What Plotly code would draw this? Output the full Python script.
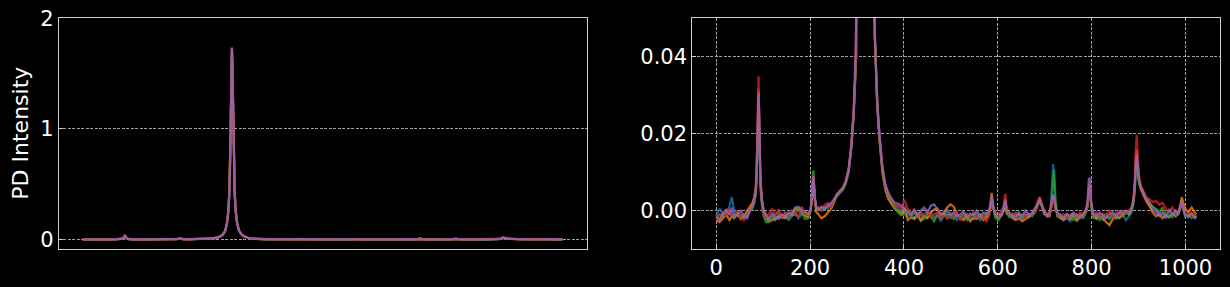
import plotly.graph_objects as go

# channel positions (shared by all spectra)
x_pos = [
    0, 7, 14, 21, 28, 33, 38, 45, 52, 59, 66, 72,
    77, 81, 84, 86, 88, 89, 90, 91, 92, 94, 97, 101, 106,
    112, 119, 126, 133, 140, 147, 154, 161, 168, 175, 182, 189, 196,
    201, 204, 206, 207, 208, 210, 213,
    218, 224, 231, 238, 245, 251,
    256, 263, 270, 276, 282, 288, 293, 298, 303, 307, 310, 312, 314, 315, 316, 317, 318,
    319, 320, 321, 322, 324, 326, 329, 333, 338, 343, 348, 354, 360, 366, 373, 380,
    387, 394, 401, 408, 415, 422, 429, 436, 443, 450, 457, 464, 471, 478, 485, 492, 499,
    506, 513, 520, 527, 534, 541, 548, 555, 562, 569, 576, 581,
    584, 587, 590,
    595, 602, 608,
    612, 616, 619,
    624, 631, 638, 645, 652, 659, 666, 673, 680,
    685, 689, 693,
    699, 705, 710,
    713, 716, 718, 720, 723,
    727, 733, 740, 747, 754, 761, 768, 775, 782, 788,
    791, 794, 796, 799,
    803, 810, 817, 824, 831, 838, 845, 852, 859, 866, 873, 880, 885,
    889, 892, 894, 896, 898, 901, 905, 910, 916, 923, 930,
    937, 944, 951, 958, 965, 972, 979, 985,
    989, 992, 995,
    999, 1006, 1013, 1020, 1023,
]

pd_blue = [
    -0.0015, 0.0005, -0.001, -0.0005, 0.001, 0.0035, 0.0, -0.0015, -0.001, -0.002, -0.0008, 0.0,
    0.0008, 0.002, 0.0045, 0.009, 0.019, 0.026, 0.029, 0.025, 0.016, 0.007, 0.002, -0.001, -0.0025,
    -0.002, -0.0015, -0.0025, -0.001, -0.002, -0.0012, -0.0025, -0.0015, -0.0005, -0.002, -0.001, -0.0005, -0.0015,
    0.0, 0.003, 0.007, 0.008, 0.0065, 0.0028, 0.0005,
    0.0005, 0.0, 0.001, 0.0005, 0.0015, 0.0025,
    0.0035, 0.0045, 0.0055, 0.0072, 0.0102, 0.0168, 0.0258, 0.0398, 0.0695, 0.129,
    0.238, 0.378, 0.648, 0.898, 1.198, 1.518, 1.728, 1.578, 1.248, 0.948,
    0.718, 0.418, 0.258, 0.149, 0.0795, 0.0445, 0.0275, 0.0185, 0.0105, 0.006, 0.0038, 0.0022, 0.0012,
    0.0008, -0.0005, 0.0012, -0.0015, -0.001, -0.002, -0.0008, -0.0025, -0.0012, -0.0018,
    -0.0005, -0.002, -0.001, -0.0028, -0.0015, -0.0008, -0.002, -0.0012, -0.0025, -0.0015,
    -0.002, -0.001, -0.0022, -0.0018, -0.0008, -0.0025, -0.0012, -0.0015, -0.0005,
    0.0005, 0.003, 0.001,
    -0.0015, -0.002, -0.0008,
    0.0, 0.0018, -0.0005,
    -0.0012, -0.002, -0.0008, -0.0015, -0.0022, -0.001, -0.0018, -0.0005, 0.0,
    0.0015, 0.0028, 0.0015,
    -0.0005, -0.0015, -0.001,
    0.002, 0.0105, 0.0121, 0.007, 0.001,
    -0.001, -0.0018, -0.0025, -0.002, -0.0028, -0.0015, -0.002, -0.001, -0.0018, -0.0005,
    0.001, 0.005, 0.0058, 0.0015,
    -0.0015, -0.002, -0.0012, -0.0025, -0.0015, -0.002, -0.0008, -0.0022, -0.0015, -0.001, -0.0025, -0.0012, -0.0005,
    0.002, 0.006, 0.011, 0.013, 0.0105, 0.007, 0.0055, 0.0042, 0.003, 0.0015, 0.0,
    -0.0005, -0.0015, -0.001, -0.002, -0.0012, -0.0018, -0.0005, -0.001,
    0.0008, 0.002, 0.0005,
    -0.0012, -0.0018, -0.001, -0.0015, -0.002,
]

pd_orange = [
    -0.0025, -0.003, -0.002, -0.001, -0.0025, -0.0015, -0.002, -0.0008, -0.0022, -0.0015, 0.0, 0.001,
    0.002, 0.0035, 0.006, 0.011, 0.022, 0.029, 0.0314, 0.026, 0.017, 0.008, 0.003, 0.0, -0.0015,
    -0.0028, -0.0025, -0.0022, -0.0015, -0.0018, -0.002, -0.001, -0.0012, 0.0005, 0.0002, -0.0008, -0.0012, -0.0018,
    0.0, 0.003, 0.0075, 0.0085, 0.0068, 0.0025, -0.0005,
    -0.001, -0.002, -0.0015, -0.0005, 0.0005, 0.002,
    0.0042, 0.005, 0.006, 0.0078, 0.0108, 0.0172, 0.0262, 0.0402, 0.0705, 0.131,
    0.242, 0.382, 0.652, 0.902, 1.202, 1.522, 1.735, 1.585, 1.252, 0.952,
    0.722, 0.422, 0.261, 0.150, 0.0798, 0.0448, 0.0272, 0.018, 0.0098, 0.0055, 0.0032, 0.0018, 0.0005,
    0.0, -0.001, 0.0005, -0.0025, -0.0018, -0.0022, -0.001, -0.0028, -0.0015, -0.002,
    -0.0005, 0.0003, 0.0005, -0.0012, -0.0005, 0.0008, 0.0016, 0.001, -0.0008, -0.002,
    -0.0025, -0.0015, -0.0028, -0.002, -0.0022, -0.0012, -0.0025, -0.0018, -0.001,
    0.0015, 0.0046, 0.0012,
    -0.001, -0.0018, -0.0012,
    0.0, 0.0022, -0.0008,
    -0.001, -0.0018, -0.0025, -0.002, -0.0028, -0.0022, -0.0015, -0.001, 0.0005,
    0.002, 0.0035, 0.002,
    0.0, -0.0012, -0.0015,
    0.0005, 0.0025, 0.0038, 0.003, 0.0005,
    -0.0012, -0.002, -0.0025, -0.0015, -0.0022, -0.001, -0.0028, -0.0015, -0.0008, 0.0,
    0.0012, 0.0055, 0.006, 0.0018,
    -0.0012, -0.0022, -0.0015, -0.002, -0.003, -0.0038, -0.0022, -0.0015, -0.002, -0.0012, -0.0005, -0.001, 0.0005,
    0.0025, 0.007, 0.013, 0.0157, 0.012, 0.0075, 0.0055, 0.004, 0.0025, 0.0012, -0.0005,
    -0.0015, -0.001, -0.002, -0.0012, -0.0018, -0.0008, -0.0015, -0.0005,
    0.0015, 0.0035, 0.0022,
    0.0005, -0.0005, 0.0008, -0.0005, -0.001,
]

pd_green = [
    -0.002, -0.001, -0.0015, 0.0, -0.0008, -0.0012, -0.002, -0.0005, -0.0018, -0.001, -0.0015, 0.0,
    0.0005, 0.002, 0.004, 0.008, 0.018, 0.025, 0.028, 0.024, 0.015, 0.006, 0.0015, -0.0015, -0.003,
    -0.003, -0.002, -0.001, -0.0005, -0.0015, -0.0005, -0.002, -0.0008, -0.0012, 0.0008, -0.0005, -0.0022, -0.002,
    0.0, 0.004, 0.0095, 0.0105, 0.008, 0.003, 0.0005,
    0.0, 0.0008, 0.0002, 0.0015, 0.001, 0.0022,
    0.0036, 0.0046, 0.0054, 0.007, 0.0098, 0.0162, 0.0252, 0.0392, 0.069, 0.128,
    0.237, 0.377, 0.646, 0.896, 1.196, 1.516, 1.726, 1.576, 1.246, 0.946,
    0.716, 0.416, 0.257, 0.149, 0.0792, 0.0445, 0.0278, 0.0188, 0.0108, 0.0062, 0.004, 0.0025, 0.0008,
    -0.0005, -0.0012, -0.001, 0.0002, -0.0015, -0.0005, -0.0018, -0.001, -0.0022, -0.0008,
    -0.0015, -0.0028, -0.0012, -0.002, -0.0005, -0.0015, -0.0008, -0.0022, -0.0012, -0.0018,
    -0.0008, -0.0025, -0.0015, -0.001, -0.002, -0.0012, -0.0018, -0.0008, -0.0012,
    0.0, 0.0025, 0.0005,
    -0.002, -0.0025, -0.001,
    0.0005, 0.0025, 0.0,
    -0.0018, -0.0008, -0.0015, -0.0005, -0.002, -0.0012, -0.001, -0.0015, -0.0005,
    0.0012, 0.0025, 0.0012,
    -0.001, -0.0008, -0.0012,
    0.0, 0.004, 0.008, 0.0106, 0.003,
    -0.0015, -0.001, -0.0022, -0.0012, -0.0018, -0.0025, -0.001, -0.0015, -0.002, -0.0005,
    0.0008, 0.0048, 0.0055, 0.001,
    -0.002, -0.0012, -0.0025, -0.0015, -0.001, -0.0022, -0.0012, -0.0018, -0.0008, -0.0015, -0.0005, -0.001, 0.0,
    0.0015, 0.005, 0.010, 0.0124, 0.011, 0.0075, 0.006, 0.0048, 0.0035, 0.0022, 0.001,
    0.0005, -0.0005, 0.0008, -0.001, -0.0015, -0.0008, -0.0012, 0.0,
    0.0005, 0.0018, 0.0002,
    -0.0015, -0.001, -0.002, -0.0012, -0.0018,
]

pd_red = [
    -0.001, -0.002, -0.0005, -0.0015, 0.0005, -0.001, -0.0015, 0.0, -0.002, -0.0025, -0.0012, 0.0005,
    0.001, 0.0025, 0.005, 0.010, 0.024, 0.032, 0.0349, 0.028, 0.018, 0.008, 0.0025, -0.0005, -0.002,
    -0.001, 0.0005, -0.0012, 0.0003, -0.0018, -0.0008, -0.0015, 0.0, -0.0008, -0.0015, 0.001, -0.0005, -0.0012,
    0.0005, 0.0035, 0.008, 0.009, 0.007, 0.003, 0.001,
    0.0008, 0.0, 0.0015, 0.002, 0.001, 0.0028,
    0.004, 0.0048, 0.0058, 0.0075, 0.0105, 0.017, 0.026, 0.040, 0.070, 0.130,
    0.240, 0.380, 0.650, 0.900, 1.200, 1.520, 1.730, 1.580, 1.250, 0.950,
    0.720, 0.420, 0.260, 0.150, 0.0802, 0.0452, 0.0282, 0.0192, 0.0112, 0.0068, 0.0045, 0.003, 0.0015,
    0.0012, 0.0005, 0.0028, 0.0005, -0.0008, 0.0002, -0.0015, -0.0005, -0.0012, 0.0,
    -0.0018, -0.001, -0.0005, -0.002, -0.0012, -0.0022, -0.001, -0.0015, -0.0005, -0.0025,
    -0.0012, -0.0008, -0.0018, -0.0005, -0.0015, -0.001, -0.002, -0.0028, -0.0015,
    0.001, 0.0035, 0.0008,
    -0.0005, -0.0015, -0.0003,
    0.0012, 0.0044, 0.0008,
    -0.0008, -0.0015, -0.0005, -0.0012, -0.001, -0.0018, -0.0008, -0.0012, 0.0,
    0.0018, 0.0033, 0.0018,
    -0.0005, -0.001, -0.0008,
    0.0005, 0.002, 0.003, 0.0025, 0.0,
    -0.0008, -0.0015, -0.001, -0.002, -0.0012, -0.0008, -0.0015, -0.0005, -0.0012, 0.0,
    0.0015, 0.0065, 0.007, 0.002,
    -0.001, -0.0005, -0.0015, -0.0008, -0.0012, 0.0, -0.0018, -0.0005, -0.001, 0.0, -0.0008, 0.0002, 0.0008,
    0.003, 0.008, 0.016, 0.0197, 0.015, 0.009, 0.0065, 0.005, 0.0035, 0.003, 0.0022,
    0.0025, 0.0015, 0.002, 0.0005, -0.0005, 0.0008, -0.0008, -0.0002,
    0.0008, 0.002, 0.0005,
    -0.0008, -0.0012, -0.0005, -0.0018, -0.0012,
]

pd_purple = [
    -0.0018, -0.0025, -0.0008, 0.0002, -0.0012, 0.0008, -0.0015, -0.001, 0.0, -0.0015, -0.002, 0.0003,
    0.0012, 0.003, 0.005, 0.009, 0.019, 0.027, 0.0306, 0.027, 0.019, 0.009, 0.003, 0.0, -0.001,
    -0.0022, -0.0008, -0.0018, -0.0022, -0.001, -0.0015, -0.0005, -0.001, 0.0008, 0.001, 0.0, -0.0003, -0.0008,
    0.0005, 0.0035, 0.0082, 0.0089, 0.0072, 0.0035, 0.001,
    0.0003, 0.001, 0.0005, 0.0012, 0.002, 0.003,
    0.0039, 0.005, 0.0059, 0.0076, 0.0106, 0.0171, 0.0261, 0.0401, 0.0702, 0.1305,
    0.2405, 0.3805, 0.6505, 0.9005, 1.2005, 1.5205, 1.7305, 1.5805, 1.2505, 0.9505,
    0.7205, 0.4205, 0.2605, 0.1505, 0.0805, 0.0455, 0.0285, 0.0195, 0.0115, 0.007, 0.0048, 0.0032, 0.002,
    0.0018, 0.0012, 0.0002, -0.0005, -0.001, 0.0002, -0.0012, 0.0, 0.0008, -0.0005,
    0.0012, 0.0016, 0.0005, -0.0008, -0.001, 0.0002, -0.0012, -0.0005, -0.0015, -0.001,
    -0.0002, -0.0018, -0.0008, -0.0012, 0.0, -0.0015, -0.0005, -0.0008, 0.0,
    0.0012, 0.0038, 0.001,
    -0.0012, -0.0008, -0.0015,
    0.0005, 0.0028, 0.0,
    -0.0005, -0.0012, -0.002, -0.0008, -0.0015, 0.0, -0.0012, -0.0008, 0.0008,
    0.0015, 0.003, 0.0015,
    -0.0008, -0.0015, -0.0005,
    0.001, 0.003, 0.0042, 0.0035, 0.001,
    -0.0005, -0.0012, -0.002, -0.0008, -0.0015, -0.0005, -0.0012, -0.002, -0.001, 0.0005,
    0.002, 0.0082, 0.0085, 0.0025,
    -0.0008, -0.0015, -0.0005, -0.0012, -0.002, -0.001, -0.0005, -0.0015, -0.0002, -0.0008, 0.0, -0.0005, 0.0005,
    0.003, 0.0065, 0.012, 0.0145, 0.012, 0.008, 0.006, 0.0045, 0.003, 0.002, 0.0008,
    0.0, -0.001, -0.0005, -0.0015, 0.0002, -0.001, 0.0, -0.0008,
    0.001, 0.0025, 0.0008,
    -0.001, -0.0015, -0.0008, -0.002, -0.0015,
]

left_yticks = [0, 1, 2]
right_yticks = [0.0, 0.02, 0.04]
right_xticks = [0, 200, 400, 600, 800, 1000]

series = [
    (pd_blue, "#1f77b4"),
    (pd_orange, "#ff7f0e"),
    (pd_green, "#2ca02c"),
    (pd_red, "#d62728"),
    (pd_purple, "#9467bd"),
]

fig = go.Figure()
for xa, ya in (("x", "y"), ("x2", "y2")):
    for ys, col in series:
        fig.add_trace(go.Scatter(
            x=x_pos, y=ys, mode="lines", xaxis=xa, yaxis=ya,
            line=dict(color=col, width=2.2), opacity=0.8,
            showlegend=False, hoverinfo="skip",
        ))

FONT = "DejaVu Sans"
tickfont = dict(family=FONT, size=21, color="white")
grid = dict(gridcolor="rgba(190,190,190,0.85)", gridwidth=0.8, griddash="3px,1.5px")
frame = dict(showline=True, linecolor="#cfcfcf", linewidth=1, mirror=True,
             zeroline=False, automargin=False)

xr = [-51.15, 1074.15]
ydom = [1 - 249 / 287, 1 - 18.3 / 287]

fig.update_layout(
    template="none",
    width=1230, height=287,
    margin=dict(l=0, r=0, t=0, b=0, pad=0),
    paper_bgcolor="black", plot_bgcolor="black",
    font=dict(family=FONT, color="white"),
    xaxis=dict(domain=[58.7 / 1230, 586.7 / 1230], range=xr, anchor="y",
               showticklabels=False, ticks="", showgrid=False, **frame),
    yaxis=dict(domain=ydom, range=[-0.088, 2.0005], anchor="x",
               tickvals=left_yticks, ticktext=[str(v) for v in left_yticks],
               ticks="inside", ticklen=4, tickcolor="#cfcfcf",
               tickfont=tickfont, showgrid=True, **grid, **frame),
    xaxis2=dict(domain=[692.3 / 1230, 1220.3 / 1230], range=xr, anchor="y2",
                tickvals=right_xticks, ticks="inside", ticklen=4, tickcolor="#cfcfcf",
                tickfont=tickfont, showgrid=True, **grid, **frame),
    yaxis2=dict(domain=ydom, range=[-0.01, 0.05], anchor="x2",
                tickvals=right_yticks, tickformat=".2f",
                ticks="inside", ticklen=4, tickcolor="#cfcfcf",
                tickfont=tickfont, showgrid=True, **grid, **frame),
    annotations=[dict(
        text="PD Intensity", textangle=-90, showarrow=False,
        xref="paper", yref="paper", x=21 / 1230, y=(ydom[0] + ydom[1]) / 2,
        xanchor="center", yanchor="middle",
        font=dict(family=FONT, size=22, color="white"),
    )],
)

fig.write_html("out.html")
